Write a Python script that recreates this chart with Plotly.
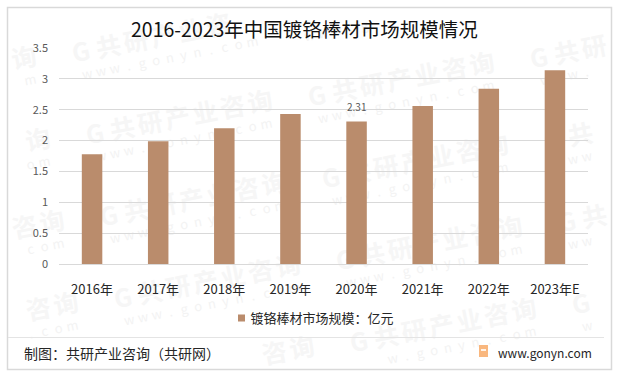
import math
import plotly.graph_objects as go

categories = ["2016年", "2017年", "2018年", "2019年", "2020年", "2021年", "2022年", "2023年E"]
values = [1.78, 1.99, 2.2, 2.43, 2.31, 2.56, 2.84, 3.14]
labelled = "2020年"
series_name = "镀铬棒材市场规模：亿元"
title_text = "2016-2023年中国镀铬棒材市场规模情况"
footer_left = "制图：共研产业咨询（共研网）"
footer_right = "www.gonyn.com"
mark_text = "G共研产业咨询"
mark_url = "www.gonyn.com"

W, H = 622, 376
FONT = "Noto Sans CJK SC"
px = lambda x: x / W
py = lambda y: 1 - y / H

fig = go.Figure(go.Bar(x=categories, y=values, name=series_name, showlegend=False,
                       marker=dict(color="#BA8C6C", line_width=0), width=0.31))
fig.add_trace(go.Scatter(x=[None], y=[None], mode="markers", name=series_name,
                         marker=dict(symbol="square", size=7, color="#BA8C6C")))

shapes = []
def wm(cx, cy, text, size, color, bold):
    if not (20 < cx < 598 and 24 < cy < 360):
        return
    t = f"<b>{text}</b>" if bold else text
    shapes.append(dict(type="rect", xref="paper", yref="paper", layer="below",
                       x0=px(cx - 1), x1=px(cx + 1), y0=py(cy + 1), y1=py(cy - 1),
                       line_width=0, fillcolor="rgba(0,0,0,0)",
                       label=dict(text=t, textposition="middle center", textangle=-11,
                                  font=dict(family=FONT, size=size, color=color))))

ang = math.radians(11)
for i in range(-2, 4):
    for j in range(-2, 5):
        cx = 178 + i * 222 + j * 14
        cy = 120 - i * 38 + j * 82
        for k, ch in enumerate(mark_text):
            d = (k - 3) * 28
            wm(cx + d * math.cos(ang), cy - d * math.sin(ang), ch, 25, "#F6F6F6", True)
        for k, ch in enumerate(mark_url):
            d = (k - 6) * 14
            wm(cx + 6 + d * math.cos(ang), cy + 21 - d * math.sin(ang), ch, 13, "#F3F3F3", False)

shapes.append(dict(type="rect", xref="paper", yref="paper", layer="below",
                   x0=px(7.5), x1=px(611.5), y0=py(369.5), y1=py(7.5),
                   line=dict(color="#D9D9D9", width=1.5), fillcolor="rgba(0,0,0,0)"))
shapes.append(dict(type="line", xref="paper", yref="paper", layer="below",
                   x0=px(8), x1=px(604), y0=py(337.5), y1=py(337.5),
                   line=dict(color="#E4E4E4", width=1)))
shapes.append(dict(type="rect", xref="paper", yref="paper", layer="above",
                   x0=px(479), x1=px(488), y0=py(357), y1=py(345),
                   line_width=0, fillcolor="#F9B77E"))
shapes.append(dict(type="rect", xref="paper", yref="paper", layer="above",
                   x0=px(481), x1=px(486), y0=py(351), y1=py(349),
                   line_width=0, fillcolor="#FFF3E8"))

annotations = [
    dict(text=title_text, xref="paper", yref="paper", x=px(304), y=py(28), showarrow=False,
         xanchor="center", yanchor="middle", font=dict(family=FONT, size=19.5, color="#111111")),
    dict(text=footer_left, xref="paper", yref="paper", x=px(22), y=py(353), xanchor="left",
         yanchor="middle", showarrow=False, font=dict(family=FONT, size=14, color="#262626")),
    dict(text=footer_right, xref="paper", yref="paper", x=px(594), y=py(352), xanchor="right",
         yanchor="middle", showarrow=False, font=dict(family=FONT, size=12, color="#262626")),
    dict(text=f"{values[categories.index(labelled)]:.2f}", x=labelled,
         y=values[categories.index(labelled)], yref="y", xref="x", showarrow=False,
         yanchor="bottom", yshift=5, font=dict(family=FONT, size=10, color="#595959")),
]

fig.update_layout(
    width=W, height=H, autosize=False, margin=dict(l=0, r=0, t=0, b=0, autoexpand=False),
    paper_bgcolor="white", plot_bgcolor="rgba(0,0,0,0)",
    font=dict(family=FONT),
    showlegend=True,
    legend=dict(orientation="h", x=px(305), xanchor="center", y=py(318), yanchor="middle",
                bgcolor="rgba(0,0,0,0)", font=dict(family=FONT, size=13, color="#262626"),
                itemwidth=30),
    shapes=shapes, annotations=annotations,
    xaxis=dict(domain=[px(59), px(588)], type="category", categoryorder="array",
               categoryarray=categories, showgrid=False, showline=True, linecolor="#D9D9D9",
               linewidth=1, ticks="", ticklabelstandoff=13,
               tickfont=dict(family=FONT, size=13, color="#262626")),
    yaxis=dict(domain=[py(264), py(48)], range=[0, 3.5], dtick=0.5, showgrid=True,
               gridcolor="#D9D9D9", gridwidth=1, zeroline=False, showline=False, ticks="",
               ticklabelstandoff=10, tickfont=dict(family=FONT, size=11, color="#595959")),
    bargap=0.69,
)
post = """document.body.style.margin='0';
document.querySelectorAll('.legendpoints').forEach(function(g){
  g.setAttribute('transform','translate(11,0)');
});"""
fig.write_html("out.html", config=dict(displayModeBar=False, responsive=False),
               default_width="622px", default_height="376px", post_script=post)
